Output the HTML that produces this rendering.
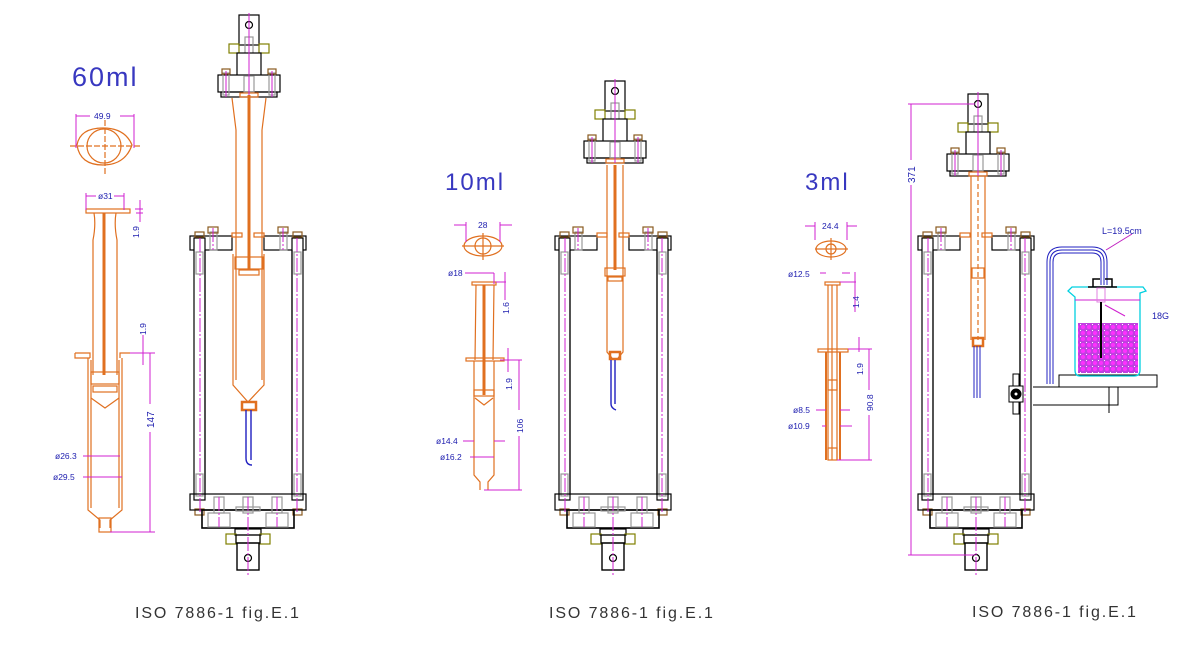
<!DOCTYPE html>
<html><head><meta charset="utf-8"><style>
html,body{margin:0;padding:0;background:#fff}
svg{display:block}
text{font-family:"Liberation Sans",sans-serif}
.ft{letter-spacing:1.9px}
.tt{letter-spacing:2px}
</style></head><body>
<svg width="1193" height="649" viewBox="0 0 1193 649" xmlns="http://www.w3.org/2000/svg">
<defs>
<pattern id="pp" width="6" height="6" patternUnits="userSpaceOnUse">
<rect width="6" height="6" fill="#c040e0"/><circle cx="3" cy="3" r="2" fill="#ff30ff"/><rect x="0" y="0" width="1" height="1" fill="#fff"/>
</pattern>
<g id="frame" fill="none" stroke="#000" stroke-width="1.2">
 <rect x="-58" y="236" width="42" height="14" fill="#fff"/>
 <rect x="16" y="236" width="42" height="14" fill="#fff"/>
 <rect x="-16" y="233" width="10" height="4" stroke="#e07020"/>
 <rect x="6" y="233" width="10" height="4" stroke="#e07020"/>
 <rect x="-54" y="238" width="11" height="262" fill="#fff"/>
 <rect x="44" y="238" width="11" height="262" fill="#fff"/>
 <line x1="-43" y1="250" x2="-43" y2="495"/><line x1="44" y1="250" x2="44" y2="495"/>
 <g stroke="#999"><rect x="-52" y="252" width="7" height="22"/><rect x="46" y="252" width="7" height="22"/>
 <rect x="-52" y="474" width="7" height="22"/><rect x="46" y="474" width="7" height="22"/>
 <rect x="-38" y="232" width="7" height="18"/><rect x="32" y="232" width="7" height="18"/></g>
 <g stroke="#8a5a20"><rect x="-40" y="227" width="10" height="6"/><rect x="30" y="227" width="10" height="6"/>
 <rect x="-53" y="232" width="9" height="5"/><rect x="45" y="232" width="9" height="5"/>
 <rect x="-53" y="509" width="9" height="6"/><rect x="45" y="509" width="9" height="6"/></g>
 <rect x="-58" y="494" width="116" height="16" fill="none"/>
 <rect x="-46" y="510" width="92" height="18" stroke-width="1.6"/>
 <g stroke="#999"><rect x="-34" y="497" width="10" height="16"/><rect x="-5" y="497" width="10" height="16"/><rect x="24" y="497" width="10" height="16"/>
 <rect x="-40" y="513" width="22" height="14"/><rect x="18" y="513" width="22" height="14"/><rect x="-12" y="507" width="24" height="4"/></g>
 <rect x="-13" y="529" width="26" height="6"/>
 <g stroke="#808000"><rect x="-22" y="534" width="10" height="10"/><rect x="12" y="534" width="10" height="10"/></g>
 <rect x="-12" y="535" width="24" height="8"/>
 <rect x="-11" y="543" width="22" height="27" stroke-width="1.4"/>
 <circle cx="0" cy="558" r="3.5"/>
 <g stroke="#d020d0" stroke-width="1" stroke-dasharray="14 2 2 2">
 <line x1="-48" y1="238" x2="-48" y2="512"/><line x1="49" y1="238" x2="49" y2="512"/>
 <line x1="-35" y1="228" x2="-35" y2="250"/><line x1="35" y1="228" x2="35" y2="250"/>
 <line x1="-29" y1="497" x2="-29" y2="527"/><line x1="29" y1="497" x2="29" y2="527"/>
 <line x1="0" y1="497" x2="0" y2="575"/></g>
</g>
<g id="head" fill="none" stroke="#000" stroke-width="1.2">
 <rect x="-10" y="0" width="20" height="30" fill="#fff"/>
 <circle cx="0" cy="10" r="3.5"/>
 <rect x="-4" y="22" width="8" height="18" stroke="#999"/>
 <g stroke="#808000"><rect x="-20" y="29" width="10" height="9"/><rect x="10" y="29" width="10" height="9"/></g>
 <rect x="-12" y="38" width="24" height="23" fill="#fff"/>
 <rect x="-31" y="60" width="62" height="17" fill="#fff"/>
 <rect x="-28" y="77" width="56" height="5"/>
 <g stroke="#999"><rect x="-5" y="61" width="10" height="16"/><rect x="-26" y="58" width="6" height="22"/><rect x="20" y="58" width="6" height="22"/></g>
 <g stroke="#8a5a20"><rect x="-27" y="54" width="8" height="5"/><rect x="19" y="54" width="8" height="5"/></g>
 <rect x="-9" y="78" width="18" height="4" stroke="#e07020"/>
 <g stroke="#d020d0" stroke-width="1"><line x1="0" y1="-2" x2="0" y2="82"/><line x1="-23" y1="56" x2="-23" y2="82"/><line x1="23" y1="56" x2="23" y2="82"/></g>
</g>
</defs>

<!-- 60ml -->
<text x="72" y="86" font-size="27" fill="#3838c0" class="tt">60ml</text>
<g fill="none" stroke="#e07020" stroke-width="1.2">
 <path d="M77 145 Q80 128 103 128 Q125 128 132 145 Q125 165 103 165 Q80 165 77 145Z"/>
 <circle cx="104" cy="146" r="17"/>
 <line x1="70" y1="146" x2="142" y2="146" stroke-dasharray="6 2"/><line x1="105" y1="120" x2="105" y2="175" stroke-dasharray="6 2"/>
 <rect x="86" y="209" width="44" height="4"/>
 <path d="M94 213 Q96 225 93 240 L93 375 M116 213 Q114 225 117 240 L117 375"/>
 <line x1="104" y1="213" x2="104" y2="375" stroke-width="3"/>
 <path d="M75 353 L90 353 L90 358 M130 353 L120 353 L120 358 M75 353 L75 358 L90 358"/>
 <path d="M88 358 L88 510 L100 520 L100 528 M122 358 L122 510 L110 520 L110 528"/>
 <path d="M91 360 L91 508 M119 360 L119 508"/>
 <rect x="91" y="372" width="28" height="12"/><rect x="93" y="386" width="24" height="6"/>
 <path d="M91 398 L105 408 L119 398"/>
 <rect x="99" y="518" width="12" height="14"/>
</g>
<g stroke="#d020d0" stroke-width="1" fill="none">
 <line x1="76" y1="116" x2="90" y2="116"/><line x1="120" y1="116" x2="134" y2="116"/>
 <line x1="76" y1="114" x2="76" y2="148"/><line x1="134" y1="114" x2="134" y2="148"/>
 <line x1="86" y1="196" x2="96" y2="196"/><line x1="114" y1="196" x2="124" y2="196"/>
 <line x1="86" y1="193" x2="86" y2="210"/><line x1="124" y1="193" x2="124" y2="210"/>
 <line x1="135" y1="209" x2="143" y2="209"/><line x1="136" y1="213" x2="143" y2="213"/>
 <line x1="140" y1="200" x2="140" y2="222"/>
 <line x1="143" y1="335" x2="143" y2="365"/>
 <line x1="130" y1="353" x2="155" y2="353"/><line x1="110" y1="532" x2="155" y2="532"/>
 <line x1="150" y1="353" x2="150" y2="404"/><line x1="150" y1="432" x2="150" y2="532"/>
 <line x1="83" y1="456" x2="120" y2="456"/><line x1="83" y1="477" x2="122" y2="477"/>
</g>
<g fill="#2020b0" font-size="8.5">
 <text x="94" y="119">49.9</text>
 <text x="98" y="199">ø31</text>
 <text x="0" y="0" transform="translate(139,238) rotate(-90)">1.9</text>
 <text x="0" y="0" transform="translate(146,335) rotate(-90)">1.9</text>
 <text x="0" y="0" transform="translate(154,428) rotate(-90)" font-size="10">147</text>
 <text x="55" y="459">ø26.3</text>
 <text x="53" y="480">ø29.5</text>
</g>
<use href="#frame" x="248"/>
<use href="#head" x="249" y="15"/>
<g fill="none" stroke="#e07020" stroke-width="1.2">
 <path d="M232 98 L236 130 L236 380 M266 98 L262 130 L262 380"/>
 <path d="M233 254 L233 385 L248 402 L264 385 L264 254"/>
 <line x1="249" y1="95" x2="249" y2="270" stroke-width="3"/>
 <rect x="235" y="257" width="28" height="12"/><rect x="239" y="270" width="20" height="5"/>
 <rect x="242" y="402" width="14" height="8" stroke-width="2.5"/>
</g>
<path d="M246 410 L246 458 Q246 465 252 465 M251 410 L251 460" stroke="#2020c0" fill="none" stroke-width="1.4"/>
<text x="135" y="618" font-size="16" fill="#333" class="ft">ISO 7886-1 fig.E.1</text>

<!-- 10ml -->
<text x="445" y="190" font-size="24" fill="#3838c0" class="tt">10ml</text>
<g fill="none" stroke="#e07020" stroke-width="1.2">
 <ellipse cx="483" cy="246" rx="19" ry="10"/><circle cx="483" cy="246" r="8"/>
 <line x1="462" y1="246" x2="504" y2="246"/><line x1="483" y1="233" x2="483" y2="260"/>
 <rect x="472" y="282" width="24" height="3"/>
 <path d="M476 285 L475 360 M494 285 L493 360"/><line x1="484" y1="285" x2="484" y2="395" stroke-width="3"/>
 <rect x="466" y="358" width="38" height="3"/>
 <path d="M474 361 L474 475 L480 482 L480 490 M494 361 L494 475 L488 482 L488 490"/>
 <rect x="474" y="390" width="20" height="6"/><path d="M475 398 L484 405 L493 398"/>
</g>
<g stroke="#d020d0" stroke-width="1" fill="none">
 <line x1="454" y1="225" x2="466" y2="225"/><line x1="500" y1="225" x2="512" y2="225"/>
 <line x1="466" y1="222" x2="466" y2="242"/><line x1="500" y1="222" x2="500" y2="242"/>
 <line x1="465" y1="273" x2="494" y2="273"/><line x1="494" y1="273" x2="494" y2="284"/>
 <line x1="505" y1="272" x2="505" y2="300"/><line x1="496" y1="282" x2="506" y2="282"/>
 <line x1="508" y1="348" x2="508" y2="372"/><line x1="500" y1="360" x2="522" y2="360"/>
 <line x1="519" y1="360" x2="519" y2="410"/><line x1="519" y1="436" x2="519" y2="490"/>
 <line x1="484" y1="490" x2="522" y2="490"/>
 <line x1="463" y1="441" x2="474" y2="441"/><line x1="494" y1="441" x2="505" y2="441"/>
 <line x1="470" y1="457" x2="494" y2="457"/>
</g>
<g fill="#2020b0" font-size="8.5">
 <text x="478" y="228">28</text>
 <text x="448" y="276">ø18</text>
 <text x="0" y="0" transform="translate(509,314) rotate(-90)">1.6</text>
 <text x="0" y="0" transform="translate(512,390) rotate(-90)">1.9</text>
 <text x="0" y="0" transform="translate(523,433) rotate(-90)">106</text>
 <text x="436" y="444">ø14.4</text>
 <text x="440" y="460">ø16.2</text>
</g>
<use href="#frame" x="613"/>
<use href="#head" x="615" y="81"/>
<g fill="none" stroke="#e07020" stroke-width="1.2">
 <path d="M607 165 L607 352 L612 358 M623 165 L623 352 L618 358"/>
 <line x1="615" y1="165" x2="615" y2="270" stroke-width="3"/>
 <rect x="605" y="268" width="20" height="8"/><rect x="608" y="277" width="14" height="4"/>
 <rect x="610" y="352" width="10" height="7" stroke-width="2.5"/>
</g>
<path d="M611 360 L611 404 Q611 408 616 410 M615 360 L615 404" stroke="#2020c0" fill="none" stroke-width="1.4"/>
<text x="549" y="618" font-size="16" fill="#333" class="ft">ISO 7886-1 fig.E.1</text>

<!-- 3ml -->
<text x="805" y="190" font-size="24" fill="#3838c0" class="tt">3ml</text>
<g fill="none" stroke="#e07020" stroke-width="1.2">
 <ellipse cx="831" cy="249" rx="15" ry="8"/><circle cx="831" cy="249" r="5"/>
 <line x1="815" y1="249" x2="848" y2="249"/><line x1="831" y1="238" x2="831" y2="260"/>
 <rect x="825" y="282" width="15" height="3"/>
 <path d="M828 285 L828 460 M837 285 L837 460 M832 285 L832 460"/>
 <rect x="818" y="349" width="30" height="3"/>
 <path d="M826 352 L826 460 M840 352 L840 460" stroke-width="2"/>
 <rect x="828" y="380" width="9" height="10"/>
 <rect x="828" y="448" width="9" height="12"/>
</g>
<g stroke="#d020d0" stroke-width="1" fill="none">
 <line x1="805" y1="226" x2="815" y2="226"/><line x1="847" y1="226" x2="857" y2="226"/>
 <line x1="815" y1="222" x2="815" y2="240"/><line x1="847" y1="222" x2="847" y2="240"/>
 <line x1="820" y1="273" x2="826" y2="273"/><line x1="842" y1="273" x2="850" y2="273"/>
 <line x1="855" y1="272" x2="855" y2="312"/><line x1="840" y1="282" x2="856" y2="282"/>
 <line x1="859" y1="337" x2="859" y2="352"/><line x1="848" y1="349" x2="872" y2="349"/>
 <line x1="869" y1="349" x2="869" y2="390"/><line x1="869" y1="415" x2="869" y2="460"/>
 <line x1="837" y1="460" x2="872" y2="460"/>
 <line x1="816" y1="410" x2="826" y2="410"/><line x1="840" y1="410" x2="850" y2="410"/>
 <line x1="822" y1="426" x2="826" y2="426"/><line x1="840" y1="426" x2="852" y2="426"/>
</g>
<g fill="#2020b0" font-size="8.5">
 <text x="822" y="229">24.4</text>
 <text x="788" y="277">ø12.5</text>
 <text x="0" y="0" transform="translate(859,308) rotate(-90)">1.4</text>
 <text x="0" y="0" transform="translate(863,375) rotate(-90)">1.9</text>
 <text x="0" y="0" transform="translate(873,411) rotate(-90)">90.8</text>
 <text x="793" y="413">ø8.5</text>
 <text x="788" y="429">ø10.9</text>
</g>
<use href="#frame" x="976"/>
<use href="#head" x="978" y="94"/>
<g fill="none" stroke="#e07020" stroke-width="1.2">
 <path d="M971 176 L971 340 M985 176 L985 340"/>
 <line x1="978" y1="176" x2="978" y2="340" stroke-dasharray="5 3"/>
 <rect x="972" y="268" width="12" height="10"/>
 <rect x="973" y="338" width="10" height="8" stroke-width="2.5"/>
</g>
<path d="M974 346 L974 398 M977 346 L977 398 M980 346 L980 398" stroke="#2020c0" fill="none" stroke-width="1"/>
<g stroke="#d020d0" stroke-width="1" fill="none">
 <line x1="908" y1="104" x2="975" y2="104"/><line x1="911" y1="104" x2="911" y2="160"/><line x1="911" y1="185" x2="911" y2="555"/>
 <line x1="908" y1="555" x2="975" y2="555"/>
</g>
<text x="0" y="0" transform="translate(915,183) rotate(-90)" font-size="10" fill="#2020b0">371</text>
<g stroke="#000" fill="#fff" stroke-width="1"><rect x="1013" y="374" width="6" height="12"/><rect x="1013" y="402" width="6" height="12"/><rect x="1009" y="386" width="14" height="16"/><circle cx="1016" cy="394" r="5" fill="#000"/><circle cx="1016" cy="394" r="2"/></g>
<g stroke="#000" fill="none" stroke-width="1">
 <rect x="1059" y="375" width="98" height="12"/>
 <path d="M1033 387 L1118 387 L1118 405 L1033 405"/>
 <line x1="1109" y1="387" x2="1109" y2="413"/>
</g>
<path d="M1050 384 L1050 262 Q1050 250 1062 250 L1092 250 Q1104 250 1104 262 L1104 285 M1053 384 L1053 262 Q1053 253 1062 253 L1092 253 Q1101 253 1101 262 L1101 285 M1047 384 L1047 262 Q1047 247 1062 247 L1092 247 Q1107 247 1107 262 L1107 285" stroke="#2020c0" fill="none" stroke-width="1"/>
<line x1="1106" y1="250" x2="1132" y2="234" stroke="#c020c0" stroke-width="1"/>
<text x="1102" y="234" font-size="9" fill="#2020b0">L=19.5cm</text>
<text x="1152" y="319" font-size="9" fill="#2020b0">18G</text>
<rect x="1078" y="323" width="60" height="50" fill="url(#pp)"/>
<path d="M1068 291 L1072 287 L1143 287 L1146 291 L1140 293 L1140 370 Q1140 376 1134 376 L1080 376 Q1075 376 1075 370 L1075 297 Z" fill="none" stroke="#00d0e0" stroke-width="1.3"/>
<line x1="1075" y1="300" x2="1140" y2="300" stroke="#d020d0"/>
<line x1="1105" y1="305" x2="1125" y2="316" stroke="#d020d0"/>
<path d="M1093 287 L1093 279 L1100 279 M1112 287 L1112 279 L1105 279 M1088 287 L1117 287" stroke="#000" fill="none" stroke-width="1.5"/>
<rect x="1097" y="288" width="8" height="14" fill="none" stroke="#e080e0"/>
<line x1="1101" y1="302" x2="1101" y2="358" stroke="#000" stroke-width="2"/>
<text x="972" y="617" font-size="16" fill="#333" class="ft">ISO 7886-1 fig.E.1</text>
</svg>
</body></html>
